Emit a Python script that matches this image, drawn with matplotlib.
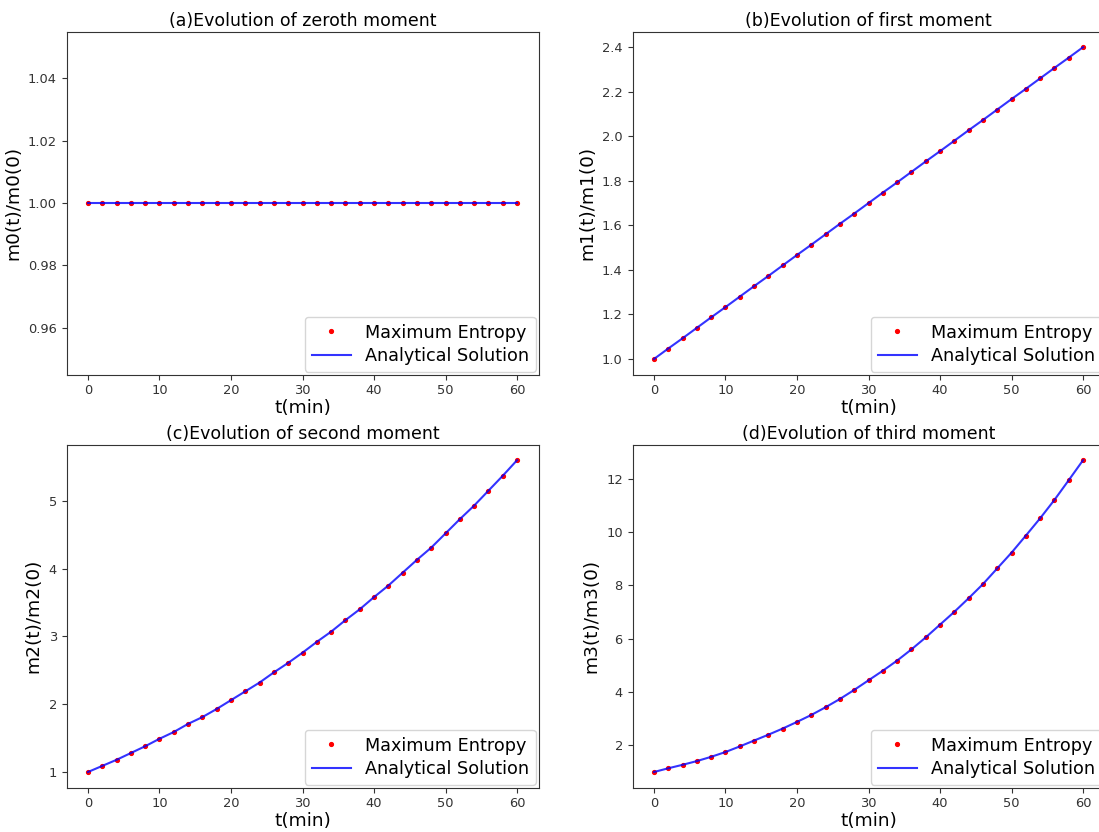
import matplotlib
matplotlib.use("Agg")
import matplotlib.pyplot as plt

# Sampling times (min)
t = [0, 2, 4, 6, 8, 10, 12, 14, 16, 18, 20, 22, 24, 26, 28, 30,
     32, 34, 36, 38, 40, 42, 44, 46, 48, 50, 52, 54, 56, 58, 60]

# Normalised moments m_k(t)/m_k(0)
m0 = [1.0] * 31
m1 = [1.000, 1.047, 1.093, 1.140, 1.187, 1.233, 1.280, 1.327, 1.373, 1.420,
      1.467, 1.513, 1.560, 1.607, 1.653, 1.700, 1.747, 1.793, 1.840, 1.887,
      1.933, 1.980, 2.027, 2.073, 2.120, 2.167, 2.213, 2.260, 2.307, 2.353,
      2.400]
m2 = [1.00, 1.09, 1.18, 1.28, 1.38, 1.49, 1.59, 1.71, 1.81, 1.93,
      2.06, 2.19, 2.32, 2.47, 2.61, 2.76, 2.92, 3.07, 3.24, 3.40,
      3.58, 3.75, 3.94, 4.13, 4.31, 4.52, 4.73, 4.93, 5.15, 5.37,
      5.60]
m3 = [1.00, 1.14, 1.27, 1.41, 1.57, 1.75, 1.96, 2.18, 2.40, 2.63,
      2.88, 3.14, 3.43, 3.74, 4.08, 4.44, 4.80, 5.18, 5.60, 6.05,
      6.53, 7.01, 7.52, 8.05, 8.64, 9.23, 9.87, 10.52, 11.21, 11.95,
      12.70]

panels = [
    ("(a)Evolution of zeroth moment", "m0(t)/m0(0)", m0),
    ("(b)Evolution of first moment", "m1(t)/m1(0)", m1),
    ("(c)Evolution of second moment", "m2(t)/m2(0)", m2),
    ("(d)Evolution of third moment", "m3(t)/m3(0)", m3),
]

W, H = 1099, 832
fig = plt.figure(figsize=(W / 100, H / 100), dpi=100)

ax_w, ax_h = 472 / W, 343 / H
lefts = [66.5 / W, 632.5 / W]
bottoms = [1 - 374.6 / H, 1 - 787.6 / H]
positions = [(lefts[0], bottoms[0]), (lefts[1], bottoms[0]),
             (lefts[0], bottoms[1]), (lefts[1], bottoms[1])]

for (title, ylabel, y), (l, b) in zip(panels, positions):
    ax = fig.add_axes([l, b, ax_w, ax_h])
    ax.plot(t, y, "r.", markersize=5.5, label="Maximum Entropy")
    ax.plot(t, y, "-", color="blue", alpha=0.8, linewidth=1.5,
            label="Analytical Solution")
    ax.set_title(title, fontsize=12.5, pad=4)
    ax.set_xlabel("t(min)", fontsize=13.3, labelpad=1)
    ax.set_ylabel(ylabel, fontsize=13.3)
    ax.tick_params(labelsize=9.4, colors="#333333")
    for s in ax.spines.values():
        s.set_edgecolor("#333333")
    ax.legend(loc="lower right", fontsize=12.7, handlelength=2.2,
              labelspacing=0.3, borderaxespad=0.15)

fig.savefig("out.png", dpi=100)
